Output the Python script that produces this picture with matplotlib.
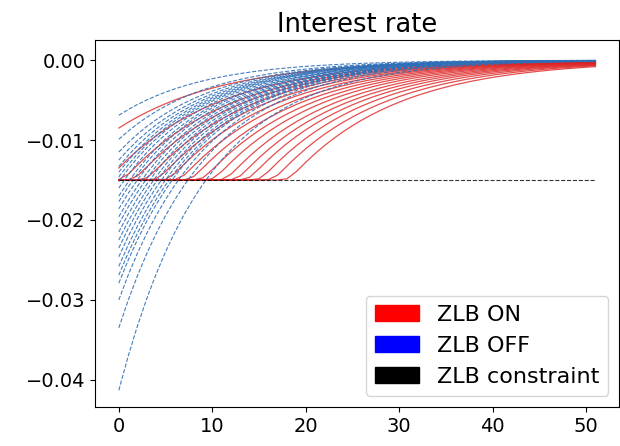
import numpy as np
import matplotlib
matplotlib.use("Agg")
import matplotlib.pyplot as plt
import matplotlib.patches as mpatches

# horizon and lower bound
periods = np.arange(0, 52)
zlb = -0.015

# ZLB OFF: initial response of the policy rate for each shock size
zlb_off_start = [-0.0069, -0.0099, -0.0115, -0.0125, -0.0133, -0.0140, -0.0146,
                 -0.0152, -0.0160, -0.0170, -0.0177, -0.0186, -0.0196, -0.0205,
                 -0.0215, -0.0225, -0.0235, -0.0246, -0.0258, -0.0269, -0.0279,
                 -0.0300, -0.0335, -0.0413]
rho_off = 0.897

# ZLB ON: paths that start above the bound, and liftoff dates of the constrained ones
zlb_on_start = [-0.0085, -0.0135]
zlb_on_liftoff = [0.5, 1.7, 3.0, 4.2, 5.4, 6.6, 7.8, 9.0, 10.2, 11.5, 12.7,
                  13.9, 15.2, 16.6, 18.2]
rho_on = 0.915
smooth = 0.0004

fig = plt.figure(figsize=(6.2, 4.46), dpi=100)
ax = fig.add_axes([0.1532, 0.0874, 0.8456, 0.8226])

shadow0 = list(zlb_on_start) + [zlb / rho_on ** T for T in zlb_on_liftoff]
for c in shadow0:
    shadow = c * rho_on ** periods
    r = zlb + smooth * np.logaddexp(0, (shadow - zlb) / smooth)
    ax.plot(periods, r, color="#dd2222", lw=0.9, alpha=0.8)

for s in zlb_off_start:
    ax.plot(periods, s * rho_off ** periods, "--", color="#2f6fb8", lw=0.8, alpha=0.9)

ax.plot(periods, np.full(len(periods), zlb), "--", color="black", lw=0.8, alpha=0.8)

ax.set_ylim(-0.0434, 0.0025)
ax.set_title("Interest rate", fontsize=18.5)
ax.tick_params(labelsize=14)

handles = [mpatches.Patch(color="red", label="ZLB ON"),
           mpatches.Patch(color="blue", label="ZLB OFF"),
           mpatches.Patch(color="black", label="ZLB constraint")]
ax.legend(handles=handles, loc="lower right", fontsize=16)

fig.savefig("out.png", dpi=100)
